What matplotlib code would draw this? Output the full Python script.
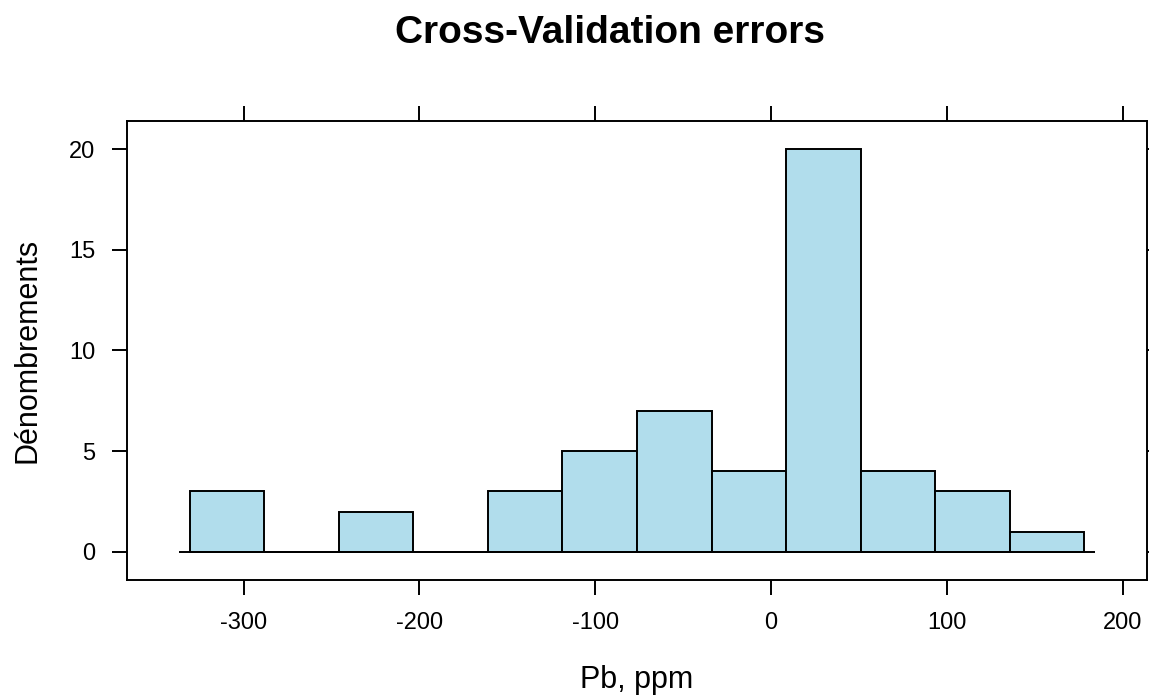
import numpy as np
import matplotlib
matplotlib.use("Agg")
import matplotlib.pyplot as plt

plt.rcParams['font.family'] = ['Liberation Sans', 'DejaVu Sans']

# histogram of the cross-validation residuals (Pb, ppm)
bin_edges = [-330.7, -288.3, -245.9, -203.4, -161.0, -118.6, -76.2,
             -33.8, 8.6, 51.1, 93.5, 135.9, 178.3]
counts = [3, 0, 2, 0, 3, 5, 7, 4, 20, 4, 3, 1]
x_ticks = [-300, -200, -100, 0, 100, 200]
y_ticks = [0, 5, 10, 15, 20]

edges = np.array(bin_edges)
widths = np.diff(edges)

fig = plt.figure(figsize=(11.49, 6.98), dpi=100)
ax = fig.add_axes([127 / 1149, 1 - 580 / 698, 1020 / 1149, 459 / 698])

ax.bar(edges[:-1], counts, width=widths, align='edge',
       color='#b1ddec', edgecolor='black', linewidth=1.4, zorder=2)
pad = 6
ax.hlines(0, edges[0] - pad, edges[-1] + pad, color='black', linewidth=1.4, zorder=3)

# lattice-style 7% padding
xr = edges[-1] - edges[0]
ax.set_xlim(edges[0] - 0.07 * xr, edges[-1] + 0.07 * xr)
ax.set_ylim(-0.07 * max(counts), max(counts) * 1.07)

ax.set_xticks(x_ticks)
ax.set_xticklabels([str(v) for v in x_ticks])
ax.set_yticks(y_ticks)
ax.tick_params(axis='both', direction='out', length=11, width=1.4,
               labelsize=17, pad=12, top=True, right=True,
               labeltop=False, labelright=False)

for sp in ax.spines.values():
    sp.set_linewidth(1.4)

ax.set_xlabel('Pb, ppm', fontsize=22)
ax.set_ylabel('Dénombrements', fontsize=22)
ax.xaxis.set_label_coords(0.5, 1 - (680 - 121) / 459 - 0.0)
ax.xaxis.label.set_verticalalignment('center')
ax.yaxis.set_label_coords((28 - 127) / 1020, 0.5)
ax.yaxis.label.set_verticalalignment('center')

fig.text(610 / 1149, 1 - 33 / 698, 'Cross-Validation errors',
         ha='center', va='center', fontsize=28, fontweight='bold')

fig.savefig('out.png', dpi=100)
